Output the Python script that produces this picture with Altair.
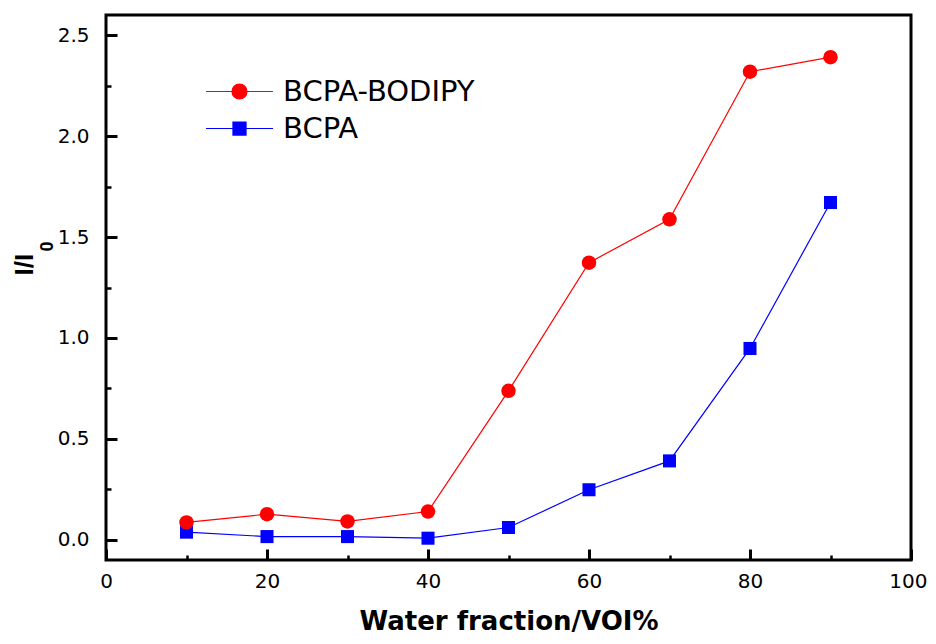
import altair as alt
import pandas as pd

# ---- data ----
water = [10, 20, 30, 40, 50, 60, 70, 80, 90]
bcpa_bodipy = [0.086, 0.127, 0.091, 0.140, 0.738, 1.373, 1.588, 2.319, 2.391]
bcpa = [0.038, 0.016, 0.016, 0.008, 0.061, 0.248, 0.391, 0.948, 1.671]
series = ["BCPA-BODIPY", "BCPA"]
colors = ["#FF0000", "#0000FF"]
x_major = [0, 20, 40, 60, 80, 100]
x_minor = [10, 30, 50, 70, 90]
y_major = [0.0, 0.5, 1.0, 1.5, 2.0, 2.5]
y_minor = [0.25, 0.75, 1.25, 1.75, 2.25]

# BCPA first so red is drawn on top
df = pd.DataFrame({
    "water": water + water,
    "ratio": bcpa + bcpa_bodipy,
    "series": [series[1]] * len(water) + [series[0]] * len(water),
})

XDOM = [0, 100]
YDOM = [-0.1, 2.6]
FONT = "DejaVu Sans"

def xs():
    return alt.Scale(domain=XDOM, nice=False, zero=False)

def ys():
    return alt.Scale(domain=YDOM, nice=False, zero=False)

color_enc = alt.Color("series:N", scale=alt.Scale(domain=series, range=colors), legend=None)

x_main = alt.X("water:Q", scale=xs(), axis=alt.Axis(
    values=x_major[:-1], format="d", title="Water fraction/VOI%", ticks=False, tickSize=0,
    domain=False, grid=False, labelFont=FONT, labelFontSize=20, labelColor="black",
    labelPadding=11, labelFlush=False, titleFont=FONT, titleFontSize=26,
    titleFontWeight="bold", titleColor="black", titlePadding=17))
y_main = alt.Y("ratio:Q", scale=ys(), axis=alt.Axis(
    values=y_major, format=".1f", title="I/I", ticks=False, tickSize=0,
    domain=False, grid=False, labelFont=FONT, labelFontSize=20, labelColor="black",
    labelPadding=17, labelFlush=False, titleFont="Liberation Sans", titleFontSize=26,
    titleFontWeight="bold", titleColor="black", titleAlign="left",
    titleBaseline="alphabetic", titleX=-74, titleY=260))

lines = alt.Chart(df).mark_line(strokeWidth=1.2).encode(
    x=x_main, y=y_main, color=color_enc, detail="series:N")
points = alt.Chart(df).mark_point(filled=True, opacity=1).encode(
    x=x_main, y=y_main, color=color_enc,
    shape=alt.Shape("series:N", scale=alt.Scale(domain=series, range=["circle", "square"]), legend=None),
    size=alt.Size("series:N", scale=alt.Scale(domain=series, range=[210, 170]), legend=None),
)
main = alt.layer(lines, points)

def tick_layer(xvals, yvals, length, width, title=None, **title_kw):
    yaxis_kw = dict(orient="left", values=yvals, labels=False, domain=False, grid=False,
                    ticks=True, tickSize=length, offset=-length, tickWidth=width,
                    tickColor="black")
    if title is not None:
        yaxis_kw.update(title=title, **title_kw)
    else:
        yaxis_kw.update(title=None)
    return alt.Chart(df).mark_point(opacity=0, size=0).encode(
        x=alt.X("water:Q", scale=xs(), axis=alt.Axis(
            orient="bottom", values=xvals, labels=False, domain=False, grid=False,
            ticks=True, tickSize=length, offset=-length, tickWidth=width,
            tickColor="black", title=None)),
        y=alt.Y("ratio:Q", scale=ys(), axis=alt.Axis(**yaxis_kw)),
    )

major = tick_layer(x_major, y_major, 11, 3)
minor = tick_layer(x_minor, y_minor, 5, 2.5, title="0",
                   titleFont="Liberation Sans", titleFontSize=18, titleFontWeight="bold",
                   titleColor="black", titleAlign="left", titleBaseline="alphabetic",
                   titleX=-59, titleY=236)

circle_path = "M-4.47,0H4.47M1,0A1,1,0,1,1,-1,0A1,1,0,1,1,1,0Z"
square_path = "M-4.47,0H4.47M-0.87,-0.87H0.87V0.87H-0.87Z"

leg = alt.Legend(orient="none", legendX=119, legendY=62, title=None, labelFont=FONT,
                 labelFontSize=29, labelColor="black", labelLimit=500, symbolSize=225,
                 symbolStrokeWidth=1.2, labelOffset=29, rowPadding=7, padding=0)

# this layer also carries the last x label (100), kept inside the page edge
legend_layer = alt.Chart(df).transform_filter("false").mark_point(filled=True, opacity=1).encode(
    x=alt.X("water:Q", scale=xs(), axis=alt.Axis(
        orient="bottom", values=x_major[-1:], format="d", ticks=False, tickSize=0,
        domain=False, grid=False, labelFont=FONT, labelFontSize=20, labelColor="black",
        labelPadding=11, labelFlush=False, labelAlign="right", labelOffset=16, title=None)),
    y=alt.Y("ratio:Q", scale=ys(), axis=None),
    fill=alt.Fill("series:N", scale=alt.Scale(domain=series, range=colors), legend=leg),
    stroke=alt.Stroke("series:N", scale=alt.Scale(domain=series, range=colors), legend=leg),
    shape=alt.Shape("series:N", scale=alt.Scale(domain=series, range=[circle_path, square_path]), legend=leg),
)

chart = alt.layer(main, major, minor, legend_layer).resolve_scale(
    x="independent", y="independent", shape="independent", size="independent",
    color="independent", fill="independent", stroke="independent",
).properties(
    width=805, height=545,
    autosize=alt.AutoSizeParams(type="none"),
    padding={"left": 98, "top": 7, "right": 17, "bottom": 76},
    background="white",
).configure_view(stroke="black", strokeWidth=3)

chart.save("out.html", embed_options={"renderer": "svg", "actions": False})
